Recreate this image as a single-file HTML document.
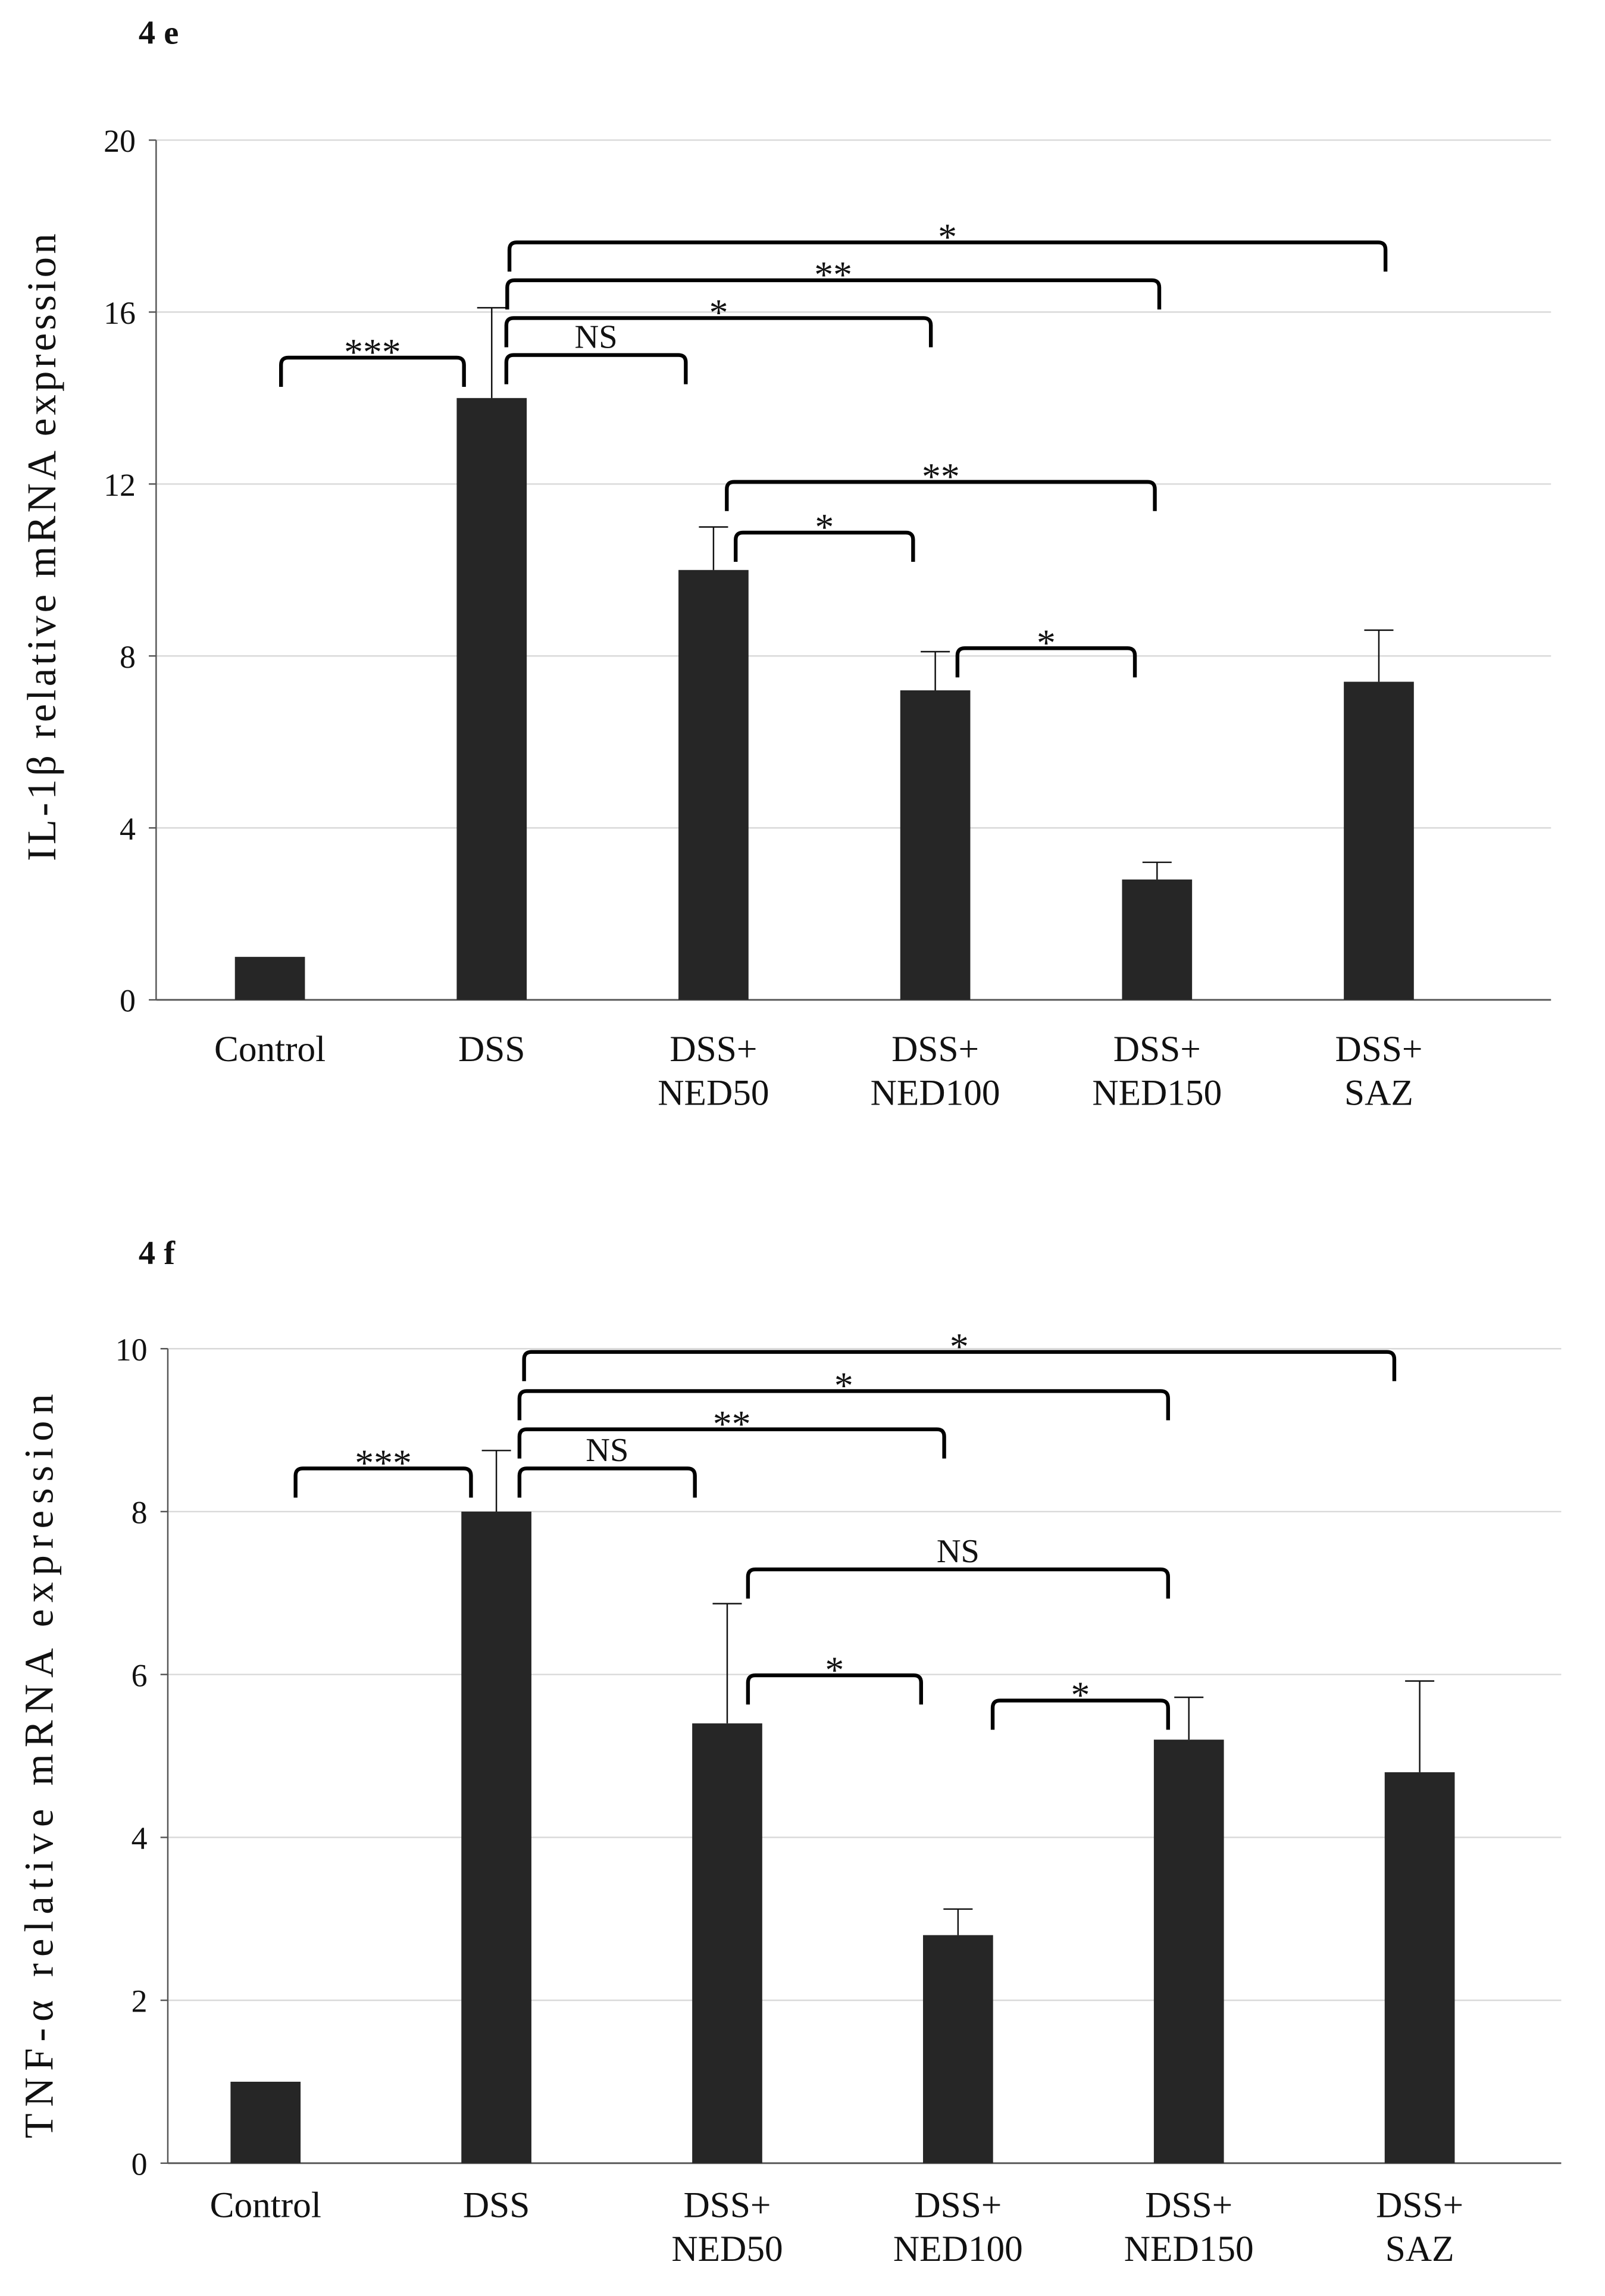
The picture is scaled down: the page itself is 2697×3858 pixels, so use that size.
<!DOCTYPE html>
<html><head><meta charset="utf-8"><style>
html,body{margin:0;padding:0;background:#fff}
svg{display:block}
text{font-family:"Liberation Serif",serif;fill:#111}
</style></head><body>
<svg id="fig" width="2697" height="3858" viewBox="0 0 1100 1573" preserveAspectRatio="none" xmlns="http://www.w3.org/2000/svg"></svg>
<script>
const categories = ["Control","DSS","DSS+|NED50","DSS+|NED100","DSS+|NED150","DSS+|SAZ"];
const il1bValues = [1, 14, 10, 7.2, 2.8, 7.4];
const il1bErrors = [0, 2.1, 1.0, 0.9, 0.4, 1.2];
const il1bTicks = [0, 4, 8, 12, 16, 20];
const tnfValues = [1, 8, 5.4, 2.8, 5.2, 4.8];
const tnfErrors = [0, 0.75, 1.47, 0.32, 0.52, 1.12];
const tnfTicks = [0, 2, 4, 6, 8, 10];
// brackets: [from (category position), to (category position), level value, label]
const il1bBrackets = [[0.05,0.875,14.94,"***"],[1.066,1.875,15.0,"NS"],[1.066,2.98,15.86,"*"],[1.07,4.01,16.74,"**"],[1.08,5.03,17.62,"*"],[2.06,3.99,12.05,"**"],[2.1,2.9,10.87,"*"],[3.1,3.9,8.18,"*"]];
const tnfBrackets = [[0.13,0.89,8.53,"***"],[1.1,1.86,8.53,"NS"],[1.1,2.94,9.01,"**"],[1.1,3.91,9.48,"*"],[1.12,4.89,9.96,"*"],[2.09,3.91,7.29,"NS"],[2.09,2.84,5.99,"*"],[3.15,3.91,5.68,"*"]];

const NS="http://www.w3.org/2000/svg";
const svg=document.getElementById('fig');
function mk(tag,attrs,parent){const e=document.createElementNS(NS,tag);for(const k in attrs)e.setAttribute(k,attrs[k]);(parent||svg).appendChild(e);return e;}

function chart(cfg){
  const g=mk('g',{});
  
  
  const ymax=cfg.ticks[cfg.ticks.length-1];
  const y=v=>cfg.y0-(v/ymax)*(cfg.y0-cfg.yTop);
  const x=i=>cfg.x0+i*cfg.step;
  cfg.ticks.forEach(t=>{
    if(t>0){const l=mk('line',{x1:cfg.axX,x2:cfg.axEnd,y1:y(t),y2:y(t),stroke:'#d9d9d9','stroke-width':1},g);
      }
    const tk=mk('line',{x1:cfg.axX-5,x2:cfg.axX,y1:y(t),y2:y(t),stroke:'#555','stroke-width':1},g);
    
    const tx=mk('text',{x:cfg.axX-14,y:y(t)+8,'font-size':22,'text-anchor':'end'},g);
    tx.textContent=t;
  });
  const ya=mk('line',{x1:cfg.axX,x2:cfg.axX,y1:cfg.yTop,y2:cfg.y0,stroke:'#555','stroke-width':1},g);
  
  const xa=mk('line',{x1:cfg.axX,x2:cfg.axEnd,y1:cfg.y0,y2:cfg.y0,stroke:'#555','stroke-width':1.2},g);
  
  cfg.values.forEach((v,i)=>{
    const cx=x(i);
    const r=mk('rect',{x:cx-24,y:y(v),width:48,height:cfg.y0-y(v),fill:'#262626'},g);
    
    
    if(cfg.errors[i]>0){
      const top=y(v+cfg.errors[i]);
      const e=mk('path',{d:`M${cx} ${y(v)}V${top}M${cx-10} ${top}H${cx+10}`,stroke:'#111','stroke-width':1,fill:'none'},g);
      
    }
    const parts=categories[i].split('|');
    parts.forEach((p,j)=>{
      const t=mk('text',{x:cx,y:cfg.labY+j*30,'font-size':25,'text-anchor':'middle'},g);
      t.textContent=p;
    });
  });
  cfg.brackets.forEach(b=>{
    const x1=x(b[0]), x2=x(b[1]);
    const yy=y(b[2]);
    const p=mk('path',{d:`M${x1} ${yy+20}V${yy+5}Q${x1} ${yy} ${x1+5} ${yy}H${x2-5}Q${x2} ${yy} ${x2} ${yy+5}V${yy+20}`,stroke:'#000','stroke-width':2.6,fill:'none'},g);
    
    const t=mk('text',{x:(x1+x2)/2,y:yy-(b[3]==='NS'?5:-5),'font-size':b[3]==='NS'?23:26,'text-anchor':'middle'},g);
    t.textContent=b[3];
  });
  const yt=mk('text',{x:0,y:0,'font-size':28,'text-anchor':'middle',textLength:cfg.titleLen,lengthAdjust:'spacing',transform:`translate(${cfg.titleX},${cfg.titleY}) rotate(-90)`},g);
  yt.textContent=cfg.yTitle;
  const pl=mk('text',{x:95,y:cfg.panelY,'font-size':23,'font-weight':'bold'},g);
  pl.textContent=cfg.panel;
}
chart({name:'il1b-chart',values:il1bValues,errors:il1bErrors,ticks:il1bTicks,brackets:il1bBrackets,
  y0:685,yTop:96,axX:107,axEnd:1063,x0:185,step:152,labY:727,yTitle:'IL-1β relative mRNA expression',titleX:38,titleY:375,titleLen:430,panel:'4 e',panelY:30});
chart({name:'tnf-chart',values:tnfValues,errors:tnfErrors,ticks:tnfTicks,brackets:tnfBrackets,
  y0:1482,yTop:924,axX:115,axEnd:1070,x0:182,step:158.2,labY:1519,yTitle:'TNF-α  relative mRNA expression',titleX:36,titleY:1210,titleLen:510,panel:'4 f',panelY:866});
</script>
</body></html>
